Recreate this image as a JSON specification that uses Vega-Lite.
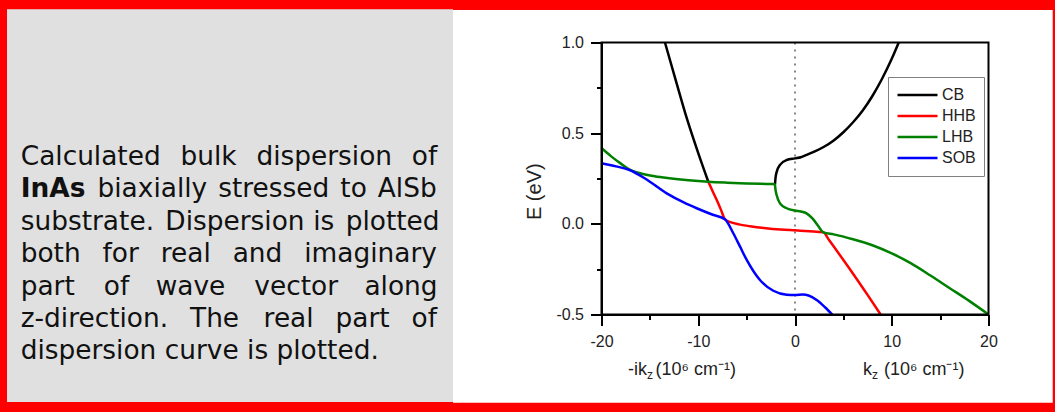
{
  "$schema": "https://vega.github.io/schema/vega-lite/v6.json",
  "width": 387,
  "height": 272,
  "autosize": {"type": "none"},
  "padding": {"left": 601.5, "top": 42.5, "right": 66.5, "bottom": 97.5},
  "background": "#ff0000",
  "config": {"view": {"stroke": null}},
  "datasets": {
    "bands": [
      {"band": "CB", "branch": "CB1", "i": 1, "k": -13.44, "E": 1.0},
      {"band": "CB", "branch": "CB1", "i": 2, "k": -12.3, "E": 0.787},
      {"band": "CB", "branch": "CB1", "i": 3, "k": -11.13, "E": 0.573},
      {"band": "CB", "branch": "CB1", "i": 4, "k": -10.0, "E": 0.39},
      {"band": "CB", "branch": "CB1", "i": 5, "k": -8.96, "E": 0.232},
      {"band": "CB", "branch": "CB2", "i": 1, "k": -2.07, "E": 0.216},
      {"band": "CB", "branch": "CB2", "i": 2, "k": -2.02, "E": 0.25},
      {"band": "CB", "branch": "CB2", "i": 3, "k": -1.9, "E": 0.285},
      {"band": "CB", "branch": "CB2", "i": 4, "k": -1.55, "E": 0.325},
      {"band": "CB", "branch": "CB2", "i": 5, "k": -0.86, "E": 0.352},
      {"band": "CB", "branch": "CB2", "i": 6, "k": 0.0, "E": 0.361},
      {"band": "CB", "branch": "CB2", "i": 7, "k": 0.6, "E": 0.367},
      {"band": "CB", "branch": "CB2", "i": 8, "k": 1.2, "E": 0.38},
      {"band": "CB", "branch": "CB2", "i": 9, "k": 2.0, "E": 0.398},
      {"band": "CB", "branch": "CB2", "i": 10, "k": 3.0, "E": 0.425},
      {"band": "CB", "branch": "CB2", "i": 11, "k": 4.0, "E": 0.46},
      {"band": "CB", "branch": "CB2", "i": 12, "k": 5.0, "E": 0.505},
      {"band": "CB", "branch": "CB2", "i": 13, "k": 6.0, "E": 0.56},
      {"band": "CB", "branch": "CB2", "i": 14, "k": 7.0, "E": 0.625},
      {"band": "CB", "branch": "CB2", "i": 15, "k": 8.0, "E": 0.705},
      {"band": "CB", "branch": "CB2", "i": 16, "k": 9.0, "E": 0.8},
      {"band": "CB", "branch": "CB2", "i": 17, "k": 10.0, "E": 0.91},
      {"band": "CB", "branch": "CB2", "i": 18, "k": 10.72, "E": 1.0},
      {"band": "HHB", "branch": "HHB", "i": 1, "k": -8.96, "E": 0.232},
      {"band": "HHB", "branch": "HHB", "i": 2, "k": -8.5, "E": 0.178},
      {"band": "HHB", "branch": "HHB", "i": 3, "k": -8.09, "E": 0.131},
      {"band": "HHB", "branch": "HHB", "i": 4, "k": -7.65, "E": 0.077},
      {"band": "HHB", "branch": "HHB", "i": 5, "k": -7.24, "E": 0.025},
      {"band": "HHB", "branch": "HHB", "i": 6, "k": -6.6, "E": 0.008},
      {"band": "HHB", "branch": "HHB", "i": 7, "k": -5.8, "E": -0.003},
      {"band": "HHB", "branch": "HHB", "i": 8, "k": -4.65, "E": -0.013},
      {"band": "HHB", "branch": "HHB", "i": 9, "k": -3.0, "E": -0.024},
      {"band": "HHB", "branch": "HHB", "i": 10, "k": -1.5, "E": -0.031},
      {"band": "HHB", "branch": "HHB", "i": 11, "k": 0.0, "E": -0.036},
      {"band": "HHB", "branch": "HHB", "i": 12, "k": 1.5, "E": -0.041},
      {"band": "HHB", "branch": "HHB", "i": 13, "k": 2.93, "E": -0.047},
      {"band": "HHB", "branch": "HHB", "i": 14, "k": 3.5, "E": -0.088},
      {"band": "HHB", "branch": "HHB", "i": 15, "k": 4.5, "E": -0.162},
      {"band": "HHB", "branch": "HHB", "i": 16, "k": 6.0, "E": -0.275},
      {"band": "HHB", "branch": "HHB", "i": 17, "k": 7.5, "E": -0.392},
      {"band": "HHB", "branch": "HHB", "i": 18, "k": 8.85, "E": -0.5},
      {"band": "LHB", "branch": "LHB", "i": 1, "k": -20.0, "E": 0.418},
      {"band": "LHB", "branch": "LHB", "i": 2, "k": -19.0, "E": 0.372},
      {"band": "LHB", "branch": "LHB", "i": 3, "k": -18.0, "E": 0.332},
      {"band": "LHB", "branch": "LHB", "i": 4, "k": -17.1, "E": 0.299},
      {"band": "LHB", "branch": "LHB", "i": 5, "k": -16.0, "E": 0.279},
      {"band": "LHB", "branch": "LHB", "i": 6, "k": -14.5, "E": 0.262},
      {"band": "LHB", "branch": "LHB", "i": 7, "k": -13.0, "E": 0.251},
      {"band": "LHB", "branch": "LHB", "i": 8, "k": -11.0, "E": 0.24},
      {"band": "LHB", "branch": "LHB", "i": 9, "k": -8.96, "E": 0.232},
      {"band": "LHB", "branch": "LHB", "i": 10, "k": -7.0, "E": 0.227},
      {"band": "LHB", "branch": "LHB", "i": 11, "k": -5.0, "E": 0.223},
      {"band": "LHB", "branch": "LHB", "i": 12, "k": -3.0, "E": 0.22},
      {"band": "LHB", "branch": "LHB", "i": 13, "k": -2.3, "E": 0.219},
      {"band": "LHB", "branch": "LHB", "i": 14, "k": -2.07, "E": 0.216},
      {"band": "LHB", "branch": "LHB", "i": 15, "k": -2.02, "E": 0.19},
      {"band": "LHB", "branch": "LHB", "i": 16, "k": -1.9, "E": 0.159},
      {"band": "LHB", "branch": "LHB", "i": 17, "k": -1.55, "E": 0.113},
      {"band": "LHB", "branch": "LHB", "i": 18, "k": -0.86, "E": 0.086},
      {"band": "LHB", "branch": "LHB", "i": 19, "k": 0.0, "E": 0.073},
      {"band": "LHB", "branch": "LHB", "i": 20, "k": 0.6, "E": 0.068},
      {"band": "LHB", "branch": "LHB", "i": 21, "k": 1.2, "E": 0.058},
      {"band": "LHB", "branch": "LHB", "i": 22, "k": 1.8, "E": 0.03},
      {"band": "LHB", "branch": "LHB", "i": 23, "k": 2.4, "E": -0.012},
      {"band": "LHB", "branch": "LHB", "i": 24, "k": 2.93, "E": -0.047},
      {"band": "LHB", "branch": "LHB", "i": 25, "k": 4.0, "E": -0.058},
      {"band": "LHB", "branch": "LHB", "i": 26, "k": 6.0, "E": -0.085},
      {"band": "LHB", "branch": "LHB", "i": 27, "k": 8.0, "E": -0.118},
      {"band": "LHB", "branch": "LHB", "i": 28, "k": 10.0, "E": -0.163},
      {"band": "LHB", "branch": "LHB", "i": 29, "k": 12.0, "E": -0.218},
      {"band": "LHB", "branch": "LHB", "i": 30, "k": 14.0, "E": -0.285},
      {"band": "LHB", "branch": "LHB", "i": 31, "k": 16.0, "E": -0.355},
      {"band": "LHB", "branch": "LHB", "i": 32, "k": 18.0, "E": -0.425},
      {"band": "LHB", "branch": "LHB", "i": 33, "k": 20.0, "E": -0.5},
      {"band": "SOB", "branch": "SOB", "i": 1, "k": -20.0, "E": 0.334},
      {"band": "SOB", "branch": "SOB", "i": 2, "k": -18.5, "E": 0.317},
      {"band": "SOB", "branch": "SOB", "i": 3, "k": -17.1, "E": 0.297},
      {"band": "SOB", "branch": "SOB", "i": 4, "k": -15.5, "E": 0.25},
      {"band": "SOB", "branch": "SOB", "i": 5, "k": -13.26, "E": 0.168},
      {"band": "SOB", "branch": "SOB", "i": 6, "k": -11.5, "E": 0.118},
      {"band": "SOB", "branch": "SOB", "i": 7, "k": -10.16, "E": 0.086},
      {"band": "SOB", "branch": "SOB", "i": 8, "k": -8.5, "E": 0.05},
      {"band": "SOB", "branch": "SOB", "i": 9, "k": -7.24, "E": 0.025},
      {"band": "SOB", "branch": "SOB", "i": 10, "k": -6.38, "E": -0.052},
      {"band": "SOB", "branch": "SOB", "i": 11, "k": -5.68, "E": -0.126},
      {"band": "SOB", "branch": "SOB", "i": 12, "k": -4.99, "E": -0.199},
      {"band": "SOB", "branch": "SOB", "i": 13, "k": -3.62, "E": -0.31},
      {"band": "SOB", "branch": "SOB", "i": 14, "k": -2.24, "E": -0.369},
      {"band": "SOB", "branch": "SOB", "i": 15, "k": -0.86, "E": -0.391},
      {"band": "SOB", "branch": "SOB", "i": 16, "k": 0.0, "E": -0.393},
      {"band": "SOB", "branch": "SOB", "i": 17, "k": 0.8, "E": -0.39},
      {"band": "SOB", "branch": "SOB", "i": 18, "k": 1.4, "E": -0.395},
      {"band": "SOB", "branch": "SOB", "i": 19, "k": 2.24, "E": -0.42},
      {"band": "SOB", "branch": "SOB", "i": 20, "k": 3.1, "E": -0.46},
      {"band": "SOB", "branch": "SOB", "i": 21, "k": 3.85, "E": -0.5}
    ]
  },
  "layer": [
    {
      "data": {"values": [{}]},
      "mark": {"type": "rect", "color": "#e0e0e0"},
      "encoding": {
        "x": {"datum": -81.447, "type": "quantitative", "title": null, "scale": {"domain": [-20, 20], "nice": false, "zero": false}},
        "x2": {"datum": -35.349},
        "y": {"datum": 1.1831, "type": "quantitative", "title": null, "scale": {"domain": [-0.5, 1], "nice": false, "zero": false}},
        "y2": {"datum": -0.98254}
      }
    },
    {
      "data": {"values": [{}]},
      "mark": {"type": "rect", "color": "#ffffff"},
      "encoding": {
        "x": {"datum": -35.349, "type": "quantitative", "title": null, "scale": {"domain": [-20, 20], "nice": false, "zero": false}},
        "x2": {"datum": 26.636},
        "y": {"datum": 1.17923, "type": "quantitative", "title": null, "scale": {"domain": [-0.5, 1], "nice": false, "zero": false}},
        "y2": {"datum": -0.9864}
      }
    },
    {
      "data": {"values": [{}]},
      "mark": {"type": "rule", "color": "#888888", "strokeDash": [2, 5], "strokeWidth": 2},
      "encoding": {
        "x": {"datum": 0, "type": "quantitative", "title": null, "scale": {"domain": [-20, 20], "nice": false, "zero": false}}
      }
    },
    {
      "data": {"name": "bands"},
      "mark": {"type": "line", "strokeWidth": 2.5, "interpolate": "monotone"},
      "encoding": {
        "x": {
          "field": "k", "type": "quantitative", "title": null,
          "scale": {"domain": [-20, 20], "nice": false, "zero": false},
          "axis": {
            "values": [-20, -15, -10, -5, 0, 5, 10, 15, 20],
            "labelExpr": "datum.value % 10 === 0 ? toString(datum.value) : ''",
            "tickSize": {"condition": {"test": "datum.value % 10 !== 0", "value": 5}, "value": 11},
            "tickWidth": 2, "tickColor": "#000000", "domainColor": "#000000", "domainWidth": 2,
            "labelFont": "Liberation Sans", "labelFontSize": 16, "labelColor": "#222222", "labelPadding": 8,
            "grid": false, "zindex": 1, "labelFlush": false, "labelOverlap": false
          }
        },
        "y": {
          "field": "E", "type": "quantitative", "title": null,
          "scale": {"domain": [-0.5, 1], "nice": false, "zero": false},
          "axis": {
            "values": [-0.5, -0.25, 0, 0.25, 0.5, 0.75, 1],
            "labelExpr": "abs(datum.value*2 - round(datum.value*2)) < 0.001 ? replace(format(datum.value, '.1f'), '\u2212', '-') : ''",
            "tickSize": {"condition": {"test": "abs(datum.value*2 - round(datum.value*2)) >= 0.001", "value": 5}, "value": 11},
            "tickWidth": 2, "tickColor": "#000000", "domainColor": "#000000", "domainWidth": 2,
            "labelFont": "Liberation Sans", "labelFontSize": 16, "labelColor": "#222222", "labelPadding": 7,
            "grid": false, "zindex": 1, "labelFlush": false, "labelOverlap": false
          }
        },
        "color": {
          "field": "band", "type": "nominal",
          "scale": {"domain": ["CB", "HHB", "LHB", "SOB"], "range": ["#000000", "#ff0000", "#008000", "#0000ff"]},
          "legend": {
            "orient": "none", "legendX": 286.5, "legendY": 34.5, "title": null,
            "symbolType": "stroke", "symbolSize": 1600, "symbolStrokeWidth": 2.5, "clipHeight": 20,
            "rowPadding": 1, "labelOffset": 3, "labelFontSize": 16, "labelFont": "Liberation Sans", "labelColor": "#222222",
            "padding": 8, "strokeColor": "#808080", "fillColor": "#ffffff"
          }
        },
        "detail": {"field": "branch"},
        "order": {"field": "i", "type": "quantitative"}
      }
    },
    {
      "data": {"values": [{}]},
      "mark": {"type": "rect", "fillOpacity": 0, "stroke": "#000000", "strokeWidth": 2},
      "encoding": {
        "x": {"datum": -20, "type": "quantitative", "title": null, "scale": {"domain": [-20, 20], "nice": false, "zero": false}},
        "x2": {"datum": 20},
        "y": {"datum": -0.5, "type": "quantitative", "title": null, "scale": {"domain": [-0.5, 1], "nice": false, "zero": false}},
        "y2": {"datum": 1}
      }
    },
    {
      "data": {"values": [{}]},
      "mark": {"type": "text", "align": "left", "baseline": "alphabetic", "font": "DejaVu Sans", "fontSize": 26.4, "color": "#111111", "text": "Calculated\u2002\u2005bulk\u2002\u2005dispersion\u2002\u2005of"},
      "encoding": {
        "x": {"datum": -80.031, "type": "quantitative", "title": null, "scale": {"domain": [-20, 20], "nice": false, "zero": false}},
        "y": {"datum": 0.32445, "type": "quantitative", "title": null, "scale": {"domain": [-0.5, 1], "nice": false, "zero": false}}
      }
    },
    {
      "data": {"values": [{}]},
      "mark": {"type": "text", "align": "left", "baseline": "alphabetic", "font": "DejaVu Sans", "fontSize": 26.4, "fontWeight": "bold", "color": "#111111", "text": "InAs"},
      "encoding": {
        "x": {"datum": -80.031, "type": "quantitative", "title": null, "scale": {"domain": [-20, 20], "nice": false, "zero": false}},
        "y": {"datum": 0.14577, "type": "quantitative", "title": null, "scale": {"domain": [-0.5, 1], "nice": false, "zero": false}}
      }
    },
    {
      "data": {"values": [{}]},
      "mark": {"type": "text", "align": "right", "baseline": "alphabetic", "font": "DejaVu Sans", "fontSize": 26.4, "color": "#111111", "text": "biaxially\u2005\u2006stressed\u2005\u2006to\u2005\u2006AlSb"},
      "encoding": {
        "x": {"datum": -37.034, "type": "quantitative", "title": null, "scale": {"domain": [-20, 20], "nice": false, "zero": false}},
        "y": {"datum": 0.14577, "type": "quantitative", "title": null, "scale": {"domain": [-0.5, 1], "nice": false, "zero": false}}
      }
    },
    {
      "data": {"values": [{}]},
      "mark": {
        "type": "text", "align": "left", "baseline": "alphabetic", "font": "DejaVu Sans", "fontSize": 26.4, "lineHeight": 32.4, "color": "#111111",
        "text": [
          "substrate.\u2004\u200aDispersion\u2004is\u2004\u200aplotted",
          "both\u2002\u2004for\u2002\u2004real\u2002\u2004and\u2002\u2004imaginary",
          "part\u2003\u200aof\u2003wave\u2003\u200avector\u2003along",
          "z-direction.\u2002\u2004The\u2002\u2004\u200areal\u2002\u2004part\u2002\u2004of",
          "dispersion curve is plotted."
        ]
      },
      "encoding": {
        "x": {"datum": -80.031, "type": "quantitative", "title": null, "scale": {"domain": [-20, 20], "nice": false, "zero": false}},
        "y": {"datum": -0.0329, "type": "quantitative", "title": null, "scale": {"domain": [-0.5, 1], "nice": false, "zero": false}}
      }
    },
    {
      "data": {"values": [{}]},
      "mark": {"type": "text", "align": "center", "baseline": "alphabetic", "angle": 270, "font": "Liberation Sans", "fontSize": 20, "color": "#222222", "text": "E (eV)"},
      "encoding": {
        "x": {"datum": -26.253, "type": "quantitative", "title": null, "scale": {"domain": [-20, 20], "nice": false, "zero": false}},
        "y": {"datum": 0.17721, "type": "quantitative", "title": null, "scale": {"domain": [-0.5, 1], "nice": false, "zero": false}}
      }
    },
    {
      "data": {"values": [{}]},
      "mark": {"type": "text", "align": "right", "baseline": "alphabetic", "font": "Liberation Sans", "fontSize": 18, "color": "#222222", "text": "-ik"},
      "encoding": {
        "x": {"datum": -15.297, "type": "quantitative", "title": null, "scale": {"domain": [-20, 20], "nice": false, "zero": false}},
        "y": {"datum": -0.83364, "type": "quantitative", "title": null, "scale": {"domain": [-0.5, 1], "nice": false, "zero": false}}
      }
    },
    {
      "data": {"values": [{}]},
      "mark": {"type": "text", "align": "left", "baseline": "alphabetic", "font": "Liberation Sans", "fontSize": 12, "dy": 4, "color": "#222222", "text": "z"},
      "encoding": {
        "x": {"datum": -15.297, "type": "quantitative", "title": null, "scale": {"domain": [-20, 20], "nice": false, "zero": false}},
        "y": {"datum": -0.83364, "type": "quantitative", "title": null, "scale": {"domain": [-0.5, 1], "nice": false, "zero": false}}
      }
    },
    {
      "data": {"values": [{}]},
      "mark": {"type": "text", "align": "left", "baseline": "alphabetic", "font": "Liberation Sans", "fontSize": 18, "color": "#222222", "text": "(10\u2076 cm\u207b\u00b9)"},
      "encoding": {
        "x": {"datum": -14.419, "type": "quantitative", "title": null, "scale": {"domain": [-20, 20], "nice": false, "zero": false}},
        "y": {"datum": -0.83364, "type": "quantitative", "title": null, "scale": {"domain": [-0.5, 1], "nice": false, "zero": false}}
      }
    },
    {
      "data": {"values": [{}]},
      "mark": {"type": "text", "align": "right", "baseline": "alphabetic", "font": "Liberation Sans", "fontSize": 18, "color": "#222222", "text": "k"},
      "encoding": {
        "x": {"datum": 7.959, "type": "quantitative", "title": null, "scale": {"domain": [-20, 20], "nice": false, "zero": false}},
        "y": {"datum": -0.83364, "type": "quantitative", "title": null, "scale": {"domain": [-0.5, 1], "nice": false, "zero": false}}
      }
    },
    {
      "data": {"values": [{}]},
      "mark": {"type": "text", "align": "left", "baseline": "alphabetic", "font": "Liberation Sans", "fontSize": 12, "dy": 4, "color": "#222222", "text": "z"},
      "encoding": {
        "x": {"datum": 7.959, "type": "quantitative", "title": null, "scale": {"domain": [-20, 20], "nice": false, "zero": false}},
        "y": {"datum": -0.83364, "type": "quantitative", "title": null, "scale": {"domain": [-0.5, 1], "nice": false, "zero": false}}
      }
    },
    {
      "data": {"values": [{}]},
      "mark": {"type": "text", "align": "left", "baseline": "alphabetic", "font": "Liberation Sans", "fontSize": 18, "color": "#222222", "text": "(10\u2076 cm\u207b\u00b9)"},
      "encoding": {
        "x": {"datum": 9.199, "type": "quantitative", "title": null, "scale": {"domain": [-20, 20], "nice": false, "zero": false}},
        "y": {"datum": -0.83364, "type": "quantitative", "title": null, "scale": {"domain": [-0.5, 1], "nice": false, "zero": false}}
      }
    }
  ]
}
